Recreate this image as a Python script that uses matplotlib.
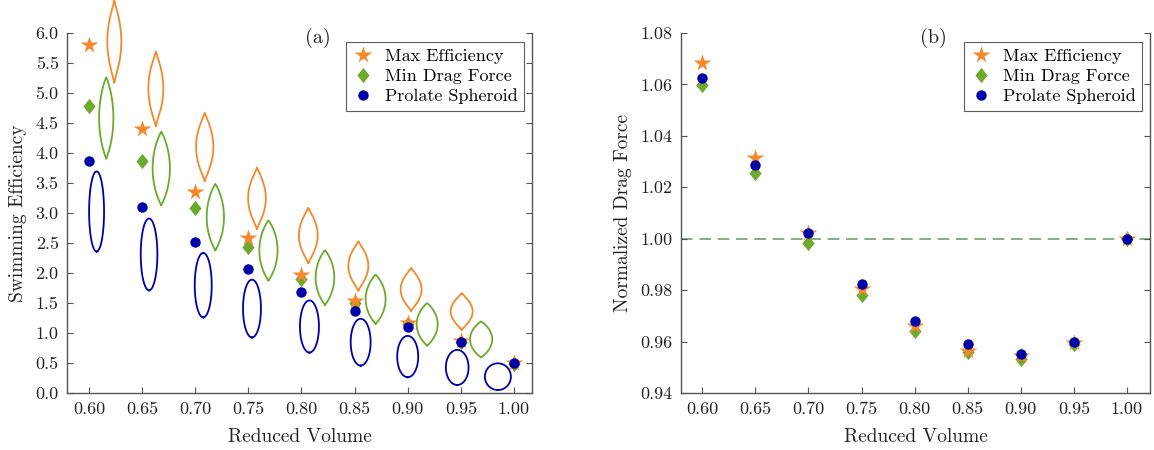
import numpy as np
import matplotlib
matplotlib.use("Agg")
import matplotlib.pyplot as plt
from matplotlib.path import Path

plt.rcParams['font.family'] = ['cmr10', 'DejaVu Serif']
plt.rcParams['axes.formatter.use_mathtext'] = True
plt.rcParams['mathtext.fontset'] = 'cm'

# ---------------- data ----------------
volume = [0.60, 0.65, 0.70, 0.75, 0.80, 0.85, 0.90, 0.95, 1.00]

eff_max = [5.80, 4.40, 3.35, 2.58, 1.97, 1.53, 1.17, 0.87, 0.50]
eff_drag = [4.78, 3.86, 3.08, 2.43, 1.90, 1.50, 1.15, 0.85, 0.48]
eff_prolate = [3.86, 3.10, 2.52, 2.06, 1.69, 1.37, 1.10, 0.85, 0.50]

drag_max = [1.0682, 1.0312, 1.0022, 0.9805, 0.9660, 0.9565, 0.9542, 0.9595, 1.0000]
drag_min = [1.0599, 1.0255, 0.9985, 0.9782, 0.9640, 0.9558, 0.9532, 0.9590, 0.9998]
drag_prolate = [1.0623, 1.0285, 1.0024, 0.9824, 0.9680, 0.9589, 0.9553, 0.9598, 1.0000]

# body-shape outlines (centre x, centre y, width, height in data units)
shape_max_x = [0.6238, 0.6629, 0.7089, 0.7581, 0.8064, 0.8535, 0.9032, 0.9508]
shape_max_y = [5.858, 5.073, 4.103, 3.246, 2.627, 2.119, 1.727, 1.359]
shape_max_w = [0.0132, 0.0141, 0.0163, 0.0167, 0.0177, 0.0188, 0.0198, 0.0207]
shape_max_h = [1.364, 1.237, 1.137, 1.020, 0.919, 0.819, 0.714, 0.613]

shape_drag_x = [0.6162, 0.6680, 0.7189, 0.7689, 0.8221, 0.8698, 0.9183, 0.9691]
shape_drag_y = [4.585, 3.744, 2.933, 2.377, 1.925, 1.563, 1.145, 0.894]
shape_drag_w = [0.0135, 0.0163, 0.0163, 0.0172, 0.0176, 0.0188, 0.0198, 0.0210]
shape_drag_h = [1.349, 1.220, 1.103, 0.998, 0.908, 0.819, 0.707, 0.597]

shape_pro_x = [0.6071, 0.6565, 0.7075, 0.7534, 0.8075, 0.8557, 0.9000, 0.9466, 0.9849]
shape_pro_y = [3.025, 2.310, 1.797, 1.407, 1.108, 0.847, 0.607, 0.426, 0.272]
shape_pro_w = [0.0141, 0.0157, 0.0160, 0.0169, 0.0179, 0.0188, 0.0198, 0.0214, 0.0245]
shape_pro_h = [1.337, 1.198, 1.075, 0.964, 0.869, 0.781, 0.690, 0.585, 0.446]

labels = ['Max Efficiency', 'Min Drag Force', 'Prolate Spheroid']

# ---------------- style ----------------
c_orange = '#F5882A'
c_green = '#6BAA2C'
c_blue = '#0000A8'
c_spine = '#555555'
diamond = Path([(0, 1), (0.8, 0), (0, -1), (-0.8, 0), (0, 1)],
               [Path.MOVETO, Path.LINETO, Path.LINETO, Path.LINETO, Path.CLOSEPOLY])


def outline(ax, xc, yc, w, h, power, color):
    t = np.linspace(-1, 1, 400)
    hw = (w / 2) * np.clip(1 - t ** 2, 0, None) ** power
    xs = np.concatenate([xc + hw, (xc - hw)[::-1]])
    ys = np.concatenate([yc + t * h / 2, (yc + t * h / 2)[::-1]])
    ax.plot(xs, ys, color=color, lw=1.3, clip_on=False, zorder=2)


def style_axes(ax):
    ax.spines['top'].set_visible(False)
    for s in ['left', 'right', 'bottom']:
        ax.spines[s].set_color(c_spine)
        ax.spines[s].set_linewidth(1.0)
    ax.tick_params(direction='in', length=4, width=0.8, color=c_spine,
                   labelsize=13, labelcolor='#222222', right=True, top=False, pad=6)


fig = plt.figure(figsize=(11.54, 4.5), dpi=100)
ax1 = fig.add_axes([0.0581, 0.1267, 0.4029, 0.80])
ax2 = fig.add_axes([0.5901, 0.1267, 0.4064, 0.80])

# ---------------- panel (a) ----------------
for i in range(len(shape_max_x)):
    outline(ax1, shape_max_x[i], shape_max_y[i], shape_max_w[i], shape_max_h[i], 1.15, c_orange)
for i in range(len(shape_drag_x)):
    outline(ax1, shape_drag_x[i], shape_drag_y[i], shape_drag_w[i], shape_drag_h[i], 0.9, c_green)
for i in range(len(shape_pro_x)):
    outline(ax1, shape_pro_x[i], shape_pro_y[i], shape_pro_w[i], shape_pro_h[i], 0.5, c_blue)

h2, = ax1.plot(volume, eff_drag, ls='none', marker=diamond, ms=11, color=c_green, mec='none', zorder=3)
h1, = ax1.plot(volume, eff_max, ls='none', marker='*', ms=13, color=c_orange, mec='none', zorder=4)
h3, = ax1.plot(volume, eff_prolate, ls='none', marker='o', ms=7.5, color=c_blue, mec='none', zorder=5)

ax1.set_xlim(0.5793, 1.017)
ax1.set_ylim(0, 6.0)
ax1.set_xticks(volume)
ax1.set_xticklabels([f'{v:.2f}' for v in volume])
ax1.set_yticks(np.arange(0, 6.01, 0.5))
ax1.set_yticklabels([f'{v:.1f}' for v in np.arange(0, 6.01, 0.5)])
style_axes(ax1)
ax1.set_xlabel('Reduced Volume', fontsize=14, color='#222222', labelpad=8)
ax1.set_ylabel('Swimming Efficiency', fontsize=14, color='#222222', labelpad=6)
ax1.text(0.540, 0.985, '(a)', transform=ax1.transAxes, fontsize=14.5, ha='center', va='center', color='#222222')
leg1 = ax1.legend([h1, h2, h3], labels, loc='upper right', bbox_to_anchor=(0.982, 0.975),
                  borderaxespad=0, fontsize=13, frameon=True, fancybox=False,
                  edgecolor='#333333', handlelength=1.2, handletextpad=0.6,
                  labelspacing=0.25, borderpad=0.35)
leg1.get_frame().set_linewidth(0.8)

# ---------------- panel (b) ----------------
ax2.axhline(1.0, color='#6E9E78', lw=1.2, ls=(0, (7, 4)), zorder=1)
g2, = ax2.plot(volume, drag_min, ls='none', marker=diamond, ms=11, color=c_green, mec='none', zorder=3)
g1, = ax2.plot(volume, drag_max, ls='none', marker='*', ms=13, color=c_orange, mec='none', zorder=4)
g3, = ax2.plot(volume, drag_prolate, ls='none', marker='o', ms=7.5, color=c_blue, mec='none', zorder=5)

ax2.set_xlim(0.58, 1.0216)
ax2.set_ylim(0.94, 1.08)
ax2.set_xticks(volume)
ax2.set_xticklabels([f'{v:.2f}' for v in volume])
yt = np.arange(0.94, 1.0801, 0.02)
ax2.set_yticks(yt)
ax2.set_yticklabels([f'{v:.2f}' for v in yt])
style_axes(ax2)
ax2.set_xlabel('Reduced Volume', fontsize=14, color='#222222', labelpad=8)
ax2.set_ylabel('Normalized Drag Force', fontsize=14, color='#222222', labelpad=6)
ax2.text(0.538, 0.985, '(b)', transform=ax2.transAxes, fontsize=14.5, ha='center', va='center', color='#222222')
leg2 = ax2.legend([g1, g2, g3], labels, loc='upper right', bbox_to_anchor=(0.983, 0.975),
                  borderaxespad=0, fontsize=13, frameon=True, fancybox=False,
                  edgecolor='#333333', handlelength=1.2, handletextpad=0.6,
                  labelspacing=0.25, borderpad=0.35)
leg2.get_frame().set_linewidth(0.8)

fig.savefig('out.png', dpi=100)
